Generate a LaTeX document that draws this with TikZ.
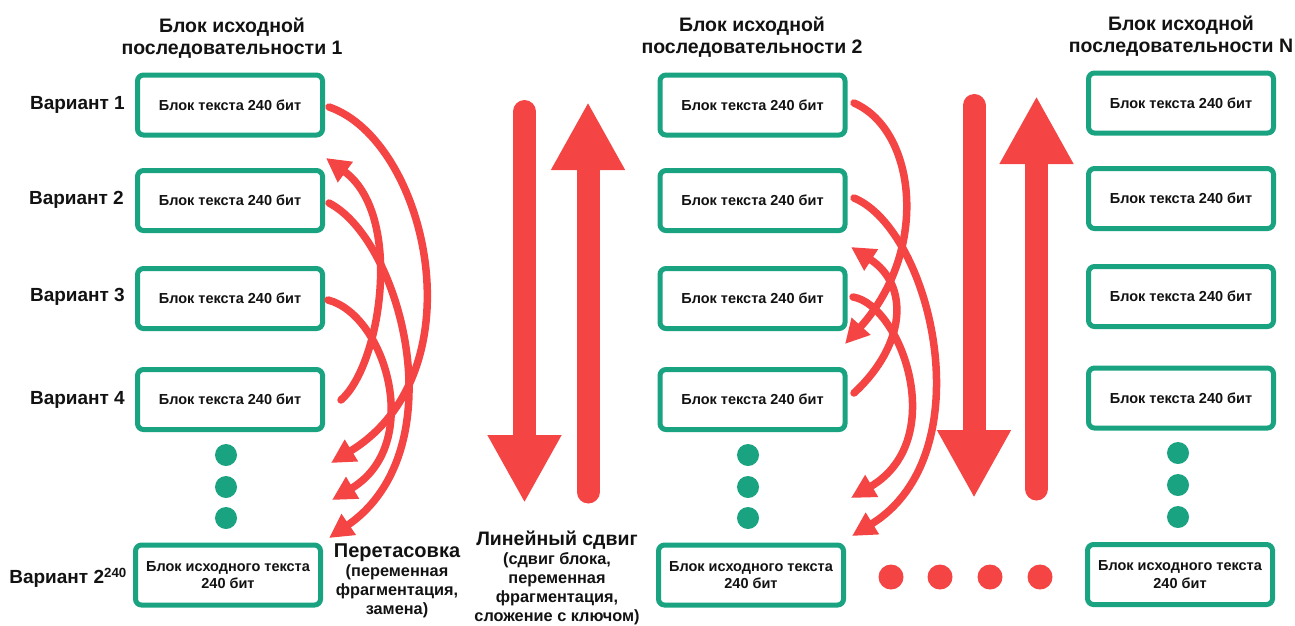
\documentclass[tikz,border=0pt]{standalone}
\usepackage{fontspec}
\setmainfont{Liberation Sans}
\usetikzlibrary{arrows.meta}

\definecolor{kteal}{RGB}{26,163,128}
\definecolor{kred}{RGB}{244,68,68}
\definecolor{ink}{RGB}{18,18,18}

\begin{document}
\begin{tikzpicture}[x=1pt, y=-1pt,
  blockbox/.style={draw=kteal, line width=5pt, rounded corners=6pt, fill=white,
    minimum width=185pt, minimum height=60pt, inner sep=0pt, align=center,
    text=ink, font=\bfseries\fontsize{14.5}{17.5}\selectfont},
  variant/.style={anchor=east, inner sep=0pt, text=ink,
    font=\bfseries\fontsize{19}{22}\selectfont},
  coltitle/.style={align=center, inner sep=0pt, text=ink,
    font=\bfseries\fontsize{19.5}{22}\selectfont},
  tdot/.style={circle, fill=kteal, minimum size=22pt, inner sep=0pt},
  rdot/.style={circle, fill=kred, minimum size=25pt, inner sep=0pt},
  shuffle/.style={draw=kred, line width=7.5pt, line cap=round,
    -{Triangle[length=24pt,width=24pt]}},
  bigarrow/.style={draw=kred, line width=23pt, line cap=round,
    -{Triangle[length=68pt,width=69pt]}},
  oplabel/.style={align=center, anchor=north, inner sep=0pt, text=ink,
    font=\bfseries\fontsize{16.3}{19}\selectfont}
]
\useasboundingbox (0,0) rectangle (1295,625);

% ---------- column titles ----------
\node[coltitle] (t1) at (232,38)  {Блок исходной\\последовательности 1};
\node[coltitle] (t2) at (752,37)  {Блок исходной\\последовательности 2};
\node[coltitle] (tN) at (1181,36) {Блок исходной\\последовательности N};

% ---------- row labels ----------
\node[variant] (v1) at (125,105) {Вариант 1};
\node[variant] (v2) at (124,200) {Вариант 2};
\node[variant] (v3) at (125,297) {Вариант 3};
\node[variant] (v4) at (125,400) {Вариант 4};
\node[variant] (vL) at (127,578) {Вариант 2\textsuperscript{240}};

% ---------- sequence 1 ----------
\node[blockbox] (a1) at (230,105)   {Блок текста 240 бит};
\node[blockbox] (a2) at (230,200.5) {Блок текста 240 бит};
\node[blockbox] (a3) at (230,298.5) {Блок текста 240 бит};
\node[blockbox] (a4) at (230,399.5) {Блок текста 240 бит};
\node[blockbox] (aL) at (228,575)   {Блок исходного текста\\240 бит};
\node[tdot] (ad1) at (226,455) {};
\node[tdot] (ad2) at (226,487) {};
\node[tdot] (ad3) at (226,518) {};

% ---------- sequence 2 ----------
\node[blockbox] (b1) at (752.5,105)   {Блок текста 240 бит};
\node[blockbox] (b2) at (752.5,200.5) {Блок текста 240 бит};
\node[blockbox] (b3) at (752.5,298.5) {Блок текста 240 бит};
\node[blockbox] (b4) at (752.5,399.5) {Блок текста 240 бит};
\node[blockbox] (bL) at (751,575)     {Блок исходного текста\\240 бит};
\node[tdot] (bd1) at (748,455) {};
\node[tdot] (bd2) at (748,487) {};
\node[tdot] (bd3) at (748,518) {};

% ---------- sequence N ----------
\node[blockbox] (n1) at (1181,103)   {Блок текста 240 бит};
\node[blockbox] (n2) at (1181,198.5) {Блок текста 240 бит};
\node[blockbox] (n3) at (1181,296.5) {Блок текста 240 бит};
\node[blockbox] (n4) at (1181,398)   {Блок текста 240 бит};
\node[blockbox] (nL) at (1180,574.5) {Блок исходного текста\\240 бит};
\node[tdot] (nd1) at (1178,453) {};
\node[tdot] (nd2) at (1178,485) {};
\node[tdot] (nd3) at (1178,517) {};

% ---------- red ellipsis between sequences ----------
\node[rdot] (r1) at (891,577)  {};
\node[rdot] (r2) at (940,577)  {};
\node[rdot] (r3) at (990,577)  {};
\node[rdot] (r4) at (1040,577) {};

% ---------- shuffle arcs, sequence 1 ----------
\coordinate (as1) at (329,107);
\coordinate (as2) at (329,203);
\coordinate (as3) at (328,300);
\coordinate (as4) at (341,400);
\coordinate (ae1) at (331,463);
\coordinate (ae2) at (329,538);
\coordinate (ae3) at (332,500);
\coordinate (ae4) at (326,158);
\draw[shuffle] (as1) .. controls +(97,33) and +(150,-92) .. (ae1);
\draw[shuffle] (as2) .. controls +(72,37) and +(128,-88) .. (ae2);
\draw[shuffle] (as3) .. controls +(58,15) and +(92,-55) .. (ae3);
\draw[shuffle] (as4) .. controls +(40,-35) and +(78,57) .. (ae4);

% ---------- shuffle arcs, sequence 2 ----------
\coordinate (bs1) at (854,103);
\coordinate (bs2) at (854,198);
\coordinate (bs3) at (853,297);
\coordinate (bs4) at (854,393);
\coordinate (be1) at (845,344);
\coordinate (be2) at (852,536);
\coordinate (be3) at (851,498);
\coordinate (be4) at (851,247);
\draw[shuffle] (bs1) .. controls +(62,27) and +(85,-94) .. (be1);
\draw[shuffle] (bs2) .. controls +(77,32) and +(133,-82) .. (be2);
\draw[shuffle] (bs3) .. controls +(48,8) and +(99,-58) .. (be3);
\draw[shuffle] (bs4) .. controls +(52,-48) and +(59,38) .. (be4);

% ---------- linear shift arrows ----------
\coordinate (l1s) at (524.5,111.5); \coordinate (l1e) at (524.5,503);
\coordinate (l2s) at (588,492);     \coordinate (l2e) at (588,102);
\coordinate (l3s) at (974,105.5);   \coordinate (l3e) at (974,498);
\coordinate (l4s) at (1036.5,489);  \coordinate (l4e) at (1036.5,96);
\draw[bigarrow] (l1s) -- (l1e);
\draw[bigarrow] (l2s) -- (l2e);
\draw[bigarrow] (l3s) -- (l3e);
\draw[bigarrow] (l4s) -- (l4e);

% ---------- operation labels ----------
\node[oplabel] (shufflelbl) at (397,544)
  {{\fontsize{20}{21}\selectfont Перетасовка}\\(переменная\\фрагментация,\\замена)};
\node[oplabel] (shiftlbl) at (557,531)
  {{\fontsize{19.5}{21}\selectfont Линейный сдвиг}\\(сдвиг блока,\\переменная\\фрагментация,\\сложение с ключом)};
\end{tikzpicture}
\end{document}
